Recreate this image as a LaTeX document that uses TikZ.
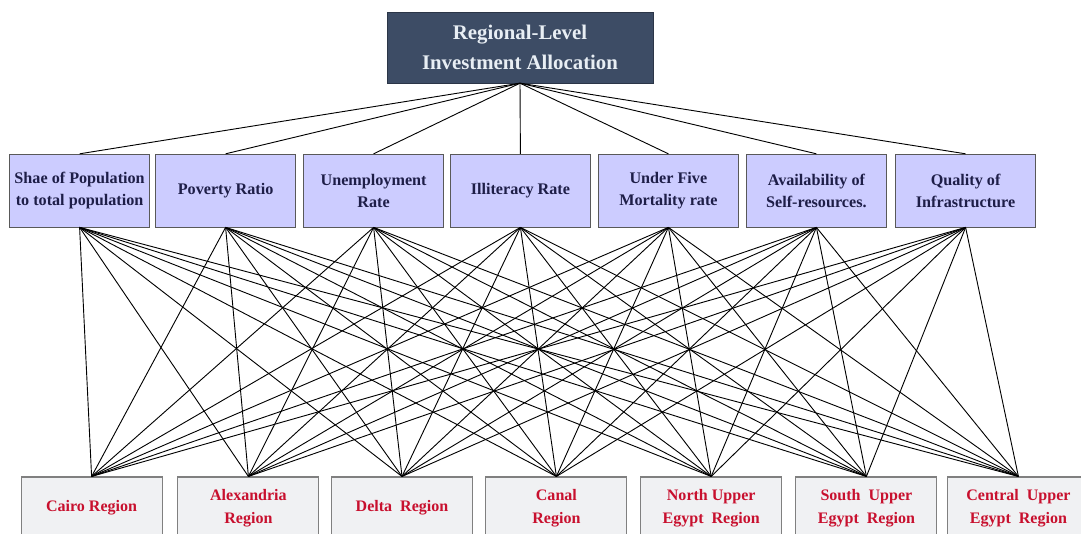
\documentclass[tikz,border=0pt]{standalone}
\usepackage{fontspec}
\setmainfont{Liberation Serif}
\usepackage{tikz}
\usetikzlibrary{positioning}

\definecolor{goalfill}{HTML}{3D4C65}
\definecolor{goaltext}{HTML}{E8EEF4}
\definecolor{critfill}{HTML}{CCCCFF}
\definecolor{crittext}{HTML}{1E1E48}
\definecolor{regfill}{HTML}{F0F1F3}
\definecolor{regtext}{HTML}{C8102E}

\begin{document}
\begin{tikzpicture}[
    goal/.style={draw=goalfill!70!black, fill=goalfill, text=goaltext,
                 minimum width=6.65cm, minimum height=1.775cm, align=center,
                 font=\fontsize{14.8}{21}\selectfont\bfseries},
    crit/.style={draw=black!65, fill=critfill, text=crittext,
                 minimum width=3.5cm, minimum height=1.825cm, align=center,
                 inner sep=1pt, font=\fontsize{11.5}{15.5}\selectfont\bfseries},
    region/.style={draw=black!50, fill=regfill, text=regtext, thick,
                   minimum width=3.525cm, minimum height=1.55cm, align=center,
                   font=\fontsize{11.4}{16.3}\selectfont\bfseries},
    link/.style={black, line width=0.65pt}
]
\useasboundingbox (0,0) rectangle (27.025,13.325);

% --- Goal ---
\node[goal] (Goal) at (13.0, 12.14) {Regional-Level\\Investment Allocation};

% --- Criteria ---
\node[crit] (Pop)   at ( 1.99, 8.56) {Shae of Population\\to total population};
\node[crit] (Pov)   at ( 5.64, 8.56) {Poverty Ratio};
\node[crit] (Unemp) at ( 9.34, 8.56) {Unemployment\\Rate};
\node[crit] (Illit) at (13.01, 8.56) {Illiteracy Rate};
\node[crit] (Mort)  at (16.71, 8.56) {Under Five\\Mortality rate};
\node[crit] (Self)  at (20.41, 8.56) {Availability of\\Self-resources.};
\node[crit] (Infra) at (24.14, 8.56) {Quality of\\Infrastructure};

% --- Regions (alternatives) ---
\node[region] (Cairo) at ( 2.29, 0.625) {Cairo Region};
\node[region] (Alex)  at ( 6.21, 0.625) {Alexandria\\Region};
\node[region] (Delta) at (10.05, 0.625) {Delta\ \ Region};
\node[region] (Canal) at (13.91, 0.625) {Canal\\Region};
\node[region] (NUE)   at (17.78, 0.625) {North Upper\\Egypt\ \ Region};
\node[region] (SUE)   at (21.66, 0.625) {South\ \ Upper\\Egypt\ \ Region};
\node[region] (CUE)   at (25.46, 0.625) {Central\ \ Upper\\Egypt\ \ Region};

% --- Goal to criteria ---
\foreach \c in {Pop,Pov,Unemp,Illit,Mort,Self,Infra}
    \draw[link] (Goal.south) -- (\c.north);

% --- Criteria to regions ---
\foreach \c in {Pop,Pov,Unemp,Illit,Mort,Self,Infra}
    \foreach \r in {Cairo,Alex,Delta,Canal,NUE,SUE,CUE}
        \draw[link] (\c.south) -- (\r.north);

\end{tikzpicture}
\end{document}
